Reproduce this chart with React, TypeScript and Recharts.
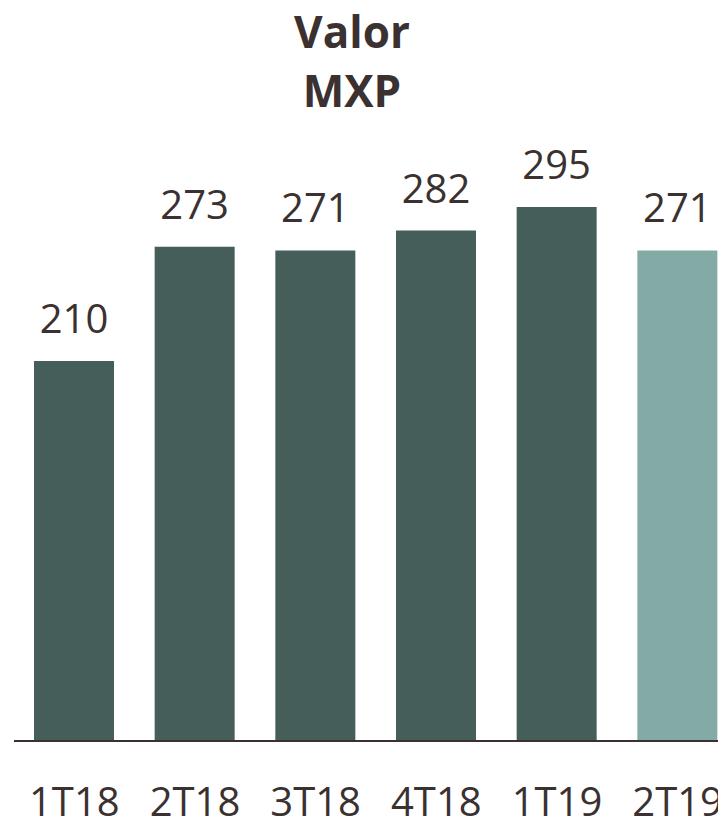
import { BarChart, Bar, XAxis, YAxis, Cell, LabelList } from "recharts";

const quarters = ["1T18", "2T18", "3T18", "4T18", "1T19", "2T19"];
const values = [210, 273, 271, 282, 295, 271];
const highlight = [false, false, false, false, false, true];
const titleLines = ["Valor", "MXP"];

const DARK = "#455e5a";
const LIGHT = "#84aaa6";
const TEXT = "#3b3131";
const FONT = "'Open Sans', sans-serif";

const data = quarters.map((q, i) => ({ q, v: values[i], light: highlight[i] }));

export default function App() {
  return (
    <div
      style={{
        position: "absolute",
        top: 0,
        left: 0,
        width: 718,
        height: 822,
        overflow: "hidden",
        background: "#fff",
        fontFamily: FONT,
      }}
    >
      <BarChart
        width={740}
        height={822}
        data={data}
        margin={{ top: 198, right: 2, left: 14, bottom: 0 }}
      >
        <XAxis
          dataKey="q"
          height={81}
          tickLine={false}
          tickSize={0}
          tickMargin={47}
          axisLine={{ stroke: TEXT, strokeWidth: 2 }}
          tick={{ fontSize: 40, fill: TEXT, fontFamily: FONT }}
          interval={0}
        />
        <YAxis hide domain={[0, 300]} />
        <Bar dataKey="v" barSize={80} isAnimationActive={false}>
          {data.map((d) => (
            <Cell key={d.q} fill={d.light ? LIGHT : DARK} />
          ))}
          <LabelList
            dataKey="v"
            position="top"
            offset={28}
            style={{ fontSize: 40, fill: TEXT, fontFamily: FONT }}
          />
        </Bar>
      </BarChart>
      <svg
        width={718}
        height={130}
        style={{ position: "absolute", top: 0, left: 0 }}
      >
        {titleLines.map((t, i) => (
          <text
            key={t}
            x={352}
            y={48 + i * 59}
            textAnchor="middle"
            fontFamily={FONT}
            fontWeight={700}
            fontSize={44}
            fill={TEXT}
          >
            {t}
          </text>
        ))}
      </svg>
    </div>
  );
}
